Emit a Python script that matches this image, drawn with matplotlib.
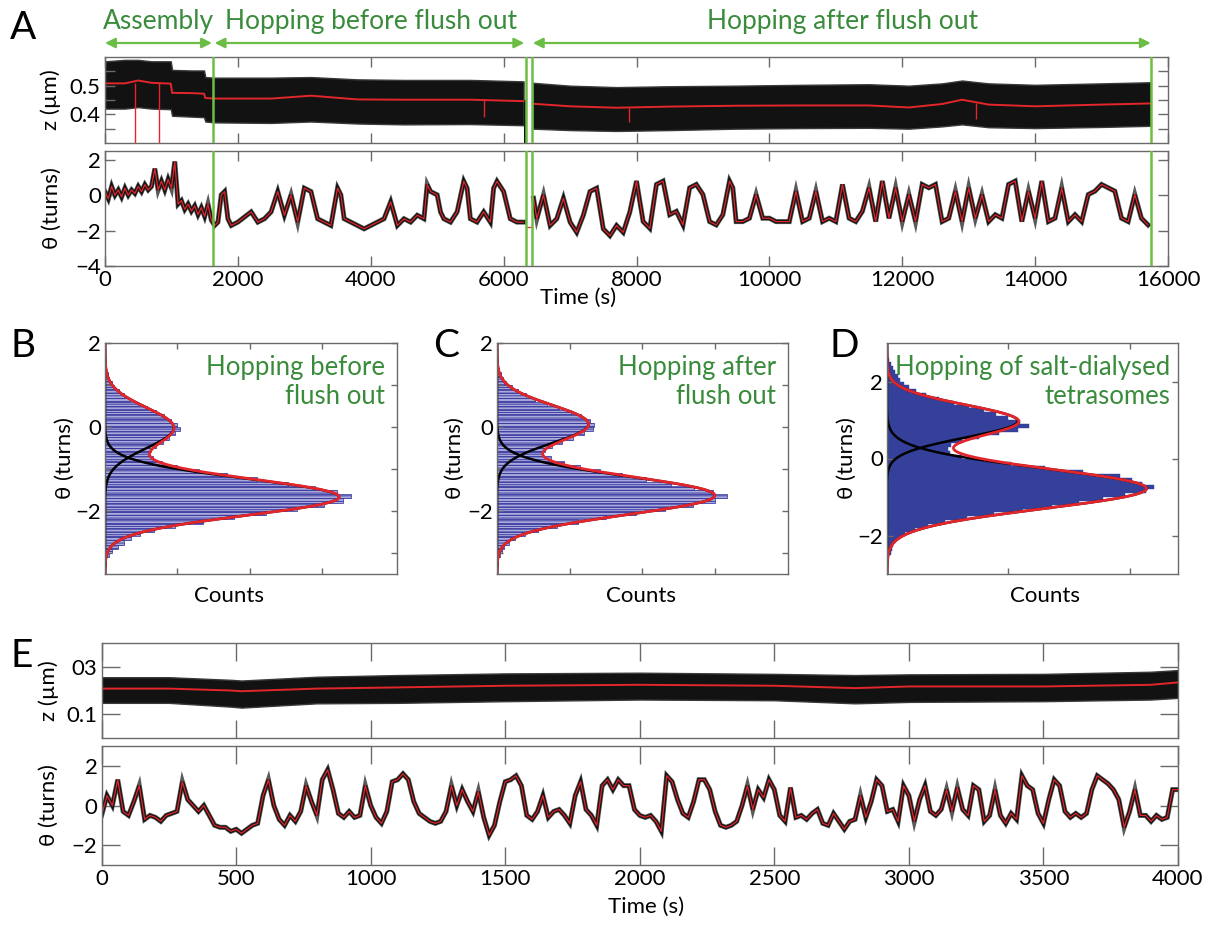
import numpy as np
import matplotlib
matplotlib.use('Agg')
import matplotlib.pyplot as plt
from matplotlib.transforms import blended_transform_factory

plt.rcParams['font.family'] = ['Lato', 'DejaVu Sans']
plt.rcParams['hatch.linewidth'] = 0.6

RED = '#e3262b'
TRACE = '#121212'
GREEN_TXT = '#3a8c3c'
GREEN_LN = '#6cbd45'
FRAME = '#6a6a6a'

# ---------------- panel A : z trace (two segments around the flush) ----------------
za1_t = [0, 300, 500, 700, 990, 1010, 1300, 1490, 1510, 1640, 2500, 3100, 3800, 4500, 5500, 6300]
za1_red = [0.508, 0.508, 0.518, 0.510, 0.507, 0.475, 0.474, 0.472, 0.457, 0.455, 0.455, 0.465, 0.452, 0.451, 0.451, 0.446]
za1_hi = [0.585, 0.590, 0.590, 0.585, 0.585, 0.555, 0.553, 0.553, 0.530, 0.528, 0.528, 0.530, 0.522, 0.520, 0.520, 0.515]
za1_lo = [0.420, 0.420, 0.425, 0.420, 0.418, 0.395, 0.392, 0.390, 0.375, 0.372, 0.370, 0.375, 0.368, 0.365, 0.366, 0.362]

za2_t = [6440, 7000, 7700, 8500, 9500, 10500, 11500, 12100, 12600, 12900, 13300, 14000, 15000, 15740]
za2_red = [0.437, 0.428, 0.423, 0.427, 0.430, 0.431, 0.431, 0.424, 0.436, 0.451, 0.434, 0.428, 0.434, 0.438]
za2_hi = [0.510, 0.500, 0.495, 0.498, 0.500, 0.503, 0.505, 0.500, 0.508, 0.518, 0.508, 0.503, 0.508, 0.512]
za2_lo = [0.350, 0.345, 0.342, 0.345, 0.350, 0.352, 0.353, 0.350, 0.358, 0.365, 0.355, 0.352, 0.356, 0.360]

# short black burst during the flush and red down-spikes
zgap_t = [6305, 6335]
zgap_lo = [0.30, 0.30]
zgap_hi = [0.45, 0.45]
zspike_t = [450, 810, 5700, 7880, 13110]
zspike_top = [0.510, 0.508, 0.451, 0.423, 0.440]
zspike_bot = [0.30, 0.30, 0.390, 0.375, 0.385]

# ---------------- panel A : theta trace ----------------
tha1_t = [0, 50, 100, 150, 200, 250, 300, 350, 400, 450,
          500, 550, 600, 650, 700, 750, 800, 850, 900, 950,
          1000, 1050, 1100, 1150, 1200, 1250, 1300, 1350, 1400, 1450,
          1500, 1550, 1600, 1650, 1700, 1750, 1800, 1850, 1900, 2000,
          2100, 2200, 2300, 2400, 2500, 2600, 2700, 2800, 2900, 3000,
          3100, 3200, 3300, 3400, 3500, 3550, 3600, 3700, 3800, 3900,
          4000, 4100, 4200, 4300, 4400, 4500, 4600, 4700, 4800, 4850,
          4900, 5000, 5050, 5100, 5200, 5300, 5400, 5450, 5500, 5600,
          5700, 5800, 5850, 5900, 6000, 6100, 6200, 6300]
tha1_v = [0.2, -0.2, 0.5, 0.0, 0.3, -0.1, 0.4, 0.0, 0.3, 0.1,
          0.5, 0.2, 0.6, 0.3, 0.5, 1.5, 0.3, 0.8, 0.3, 0.9,
          0.4, 1.9, -0.5, -0.3, -0.8, -0.5, -0.9, -0.6, -1.1, -0.7,
          -1.2, -0.5, -1.4, -1.71, -1.52, 0.02, 0.21, -1.33, -1.71, -1.52,
          -1.23, -0.94, -1.52, -1.33, -0.94, 0.21, -1.13, 0.02, -1.52, 0.40,
          0.21, -1.33, -1.52, -1.71, 0.40, 0.02, -1.33, -1.52, -1.71, -1.90,
          -1.71, -1.52, -1.33, -0.37, -1.71, -1.33, -1.52, -1.13, -1.33, 0.60,
          0.21, 0.02, -0.94, -1.33, -1.52, -0.94, 0.79, 0.40, -1.33, -1.52,
          -0.94, -1.52, 0.40, 0.79, 0.21, -1.33, -1.52, -1.52]

tha2_t = [6450, 6500, 6600, 6700, 6800, 6900, 7000, 7100, 7200, 7300,
          7400, 7500, 7600, 7700, 7800, 7900, 8000, 8100, 8200, 8300,
          8400, 8500, 8600, 8700, 8800, 8900, 9000, 9100, 9200, 9300,
          9400, 9450, 9500, 9600, 9700, 9800, 9900, 10000, 10100, 10200,
          10300, 10400, 10500, 10600, 10700, 10800, 10900, 11000, 11100, 11200,
          11300, 11400, 11500, 11600, 11700, 11800, 11900, 12000, 12100, 12200,
          12300, 12400, 12500, 12600, 12700, 12800, 12900, 13000, 13100, 13200,
          13300, 13400, 13500, 13600, 13700, 13800, 13900, 14000, 14100, 14200,
          14300, 14400, 14500, 14600, 14700, 14800, 14900, 15000, 15100, 15200,
          15300, 15400, 15500, 15600, 15700]
tha2_v = [-0.17, -1.33, 0.02, -1.71, -1.33, -0.17, -1.52, -2.10, -1.13, 0.21,
          0.40, -1.90, -2.29, -1.71, -2.10, -0.94, 0.80, -1.49, -1.87, 0.61,
          0.80, -1.10, -0.91, -1.68, 0.42, 0.61, 0.04, -1.49, -1.68, -1.10,
          0.80, 0.42, -1.49, -1.49, -1.30, 0.04, -1.30, -1.30, -1.49, -1.49,
          -1.49, 0.23, -1.49, -1.30, 0.23, -1.49, -1.30, -1.49, 0.61, -1.30,
          -1.49, -0.91, 0.42, -1.49, 0.80, -1.30, 0.42, -1.49, 0.04, -1.49,
          0.61, 0.42, 0.61, -1.49, -1.30, 0.23, -1.49, 0.42, -1.30, 0.04,
          -1.49, -1.10, -1.30, 0.61, 0.80, -1.49, 0.23, -1.30, 0.80, -1.49,
          -1.30, 0.42, -1.49, -1.10, -1.49, 0.04, 0.23, 0.61, 0.42, 0.23,
          -1.30, -1.49, 0.04, -1.30, -1.68]

thgap_t = [6340, 6430]
thgap_v = [-1.77, -1.77]

flush_lines = [1630, 6330, 6430, 15750]

# ---------------- panels B, C, D : histograms (counts, arbitrary units) ----------------
histB = [0.0, 0.0, 0.01, 0.02, 0.05, 0.10, 0.18, 0.26, 0.36, 0.48,
         0.68, 0.97, 1.35, 1.78, 2.22, 2.65, 3.02, 3.28, 3.39, 3.20,
         2.90, 2.52, 2.10, 1.68, 1.30, 1.00, 0.78, 0.66, 0.60, 0.63,
         0.70, 0.80, 0.88, 0.96, 1.04, 1.00, 0.91, 0.82, 0.71, 0.58,
         0.46, 0.35, 0.26, 0.19, 0.13, 0.09, 0.06, 0.04, 0.02, 0.01,
         0.005, 0.0, 0.0, 0.0, 0.0]
histC = [0.0, 0.0, 0.01, 0.02, 0.04, 0.07, 0.10, 0.16, 0.25, 0.38,
         0.57, 0.82, 1.12, 1.50, 1.92, 2.32, 2.70, 3.00, 3.17, 2.98,
         2.72, 2.40, 2.05, 1.72, 1.42, 1.15, 0.93, 0.74, 0.64, 0.66,
         0.76, 0.90, 1.05, 1.20, 1.32, 1.34, 1.28, 1.16, 1.02, 0.86,
         0.69, 0.53, 0.40, 0.29, 0.20, 0.13, 0.08, 0.05, 0.03, 0.02,
         0.01, 0.0, 0.0, 0.0, 0.0]
histD = [0.0, 0.0, 0.01, 0.01, 0.02, 0.03, 0.04, 0.05, 0.07, 0.10,
         0.15, 0.23, 0.34, 0.48, 0.66, 0.88, 1.12, 1.36, 1.58, 1.78,
         1.96, 2.14, 2.20, 2.10, 2.02, 1.92, 1.62, 1.30, 1.02, 0.80,
         0.62, 0.52, 0.50, 0.53, 0.62, 0.76, 0.92, 1.08, 1.17, 1.10,
         1.00, 0.90, 0.80, 0.68, 0.55, 0.43, 0.32, 0.24, 0.18, 0.14,
         0.11, 0.09, 0.07, 0.05, 0.03, 0.02, 0.01, 0.0, 0.0, 0.0]
binB_first, binC_first, binD_first = -3.45, -3.45, -2.95   # first bin centre (turns)
bin_w = 0.1

# two-state gaussian fits: amplitude, centre, width
fitB = dict(amp=[0.95, 3.23], mu=[-0.02, -1.667], sig=[0.48, 0.436])
fitC = dict(amp=[1.26, 3.0], mu=[0.07, -1.63], sig=[0.45, 0.45])
fitD = dict(amp=[1.08, 2.14], mu=[0.97, -0.78], sig=[0.42, 0.52])

# ---------------- panel E ----------------
ze_t = [0, 250, 480, 520, 800, 1100, 1500, 2000, 2500, 2800, 3000, 3500, 3900, 4000]
ze_red = [0.208, 0.208, 0.200, 0.197, 0.208, 0.213, 0.220, 0.224, 0.220, 0.210, 0.217, 0.217, 0.224, 0.234]
ze_hi = [0.256, 0.256, 0.245, 0.242, 0.258, 0.265, 0.272, 0.275, 0.270, 0.265, 0.268, 0.270, 0.279, 0.286]
ze_lo = [0.148, 0.148, 0.132, 0.128, 0.146, 0.148, 0.155, 0.162, 0.159, 0.146, 0.152, 0.155, 0.162, 0.169]

the_dt = 20
the_v = [-0.5, 0.5, 0.0, 1.3, -0.3, -0.5, 0.2, 1.0, -0.7, -0.5,
         -0.6, -0.8, -0.5, -0.4, -0.3, 1.2, 0.3, 0.0, -0.3, 0.0,
         -0.5, -1.0, -1.1, -1.1, -1.3, -1.2, -1.4, -1.2, -1.0, -0.9,
         0.5, 1.3, 0.0, -0.7, -1.0, -0.5, -0.8, -0.3, 1.0, 0.2,
         -0.5, 1.3, 1.8, 0.8, -0.4, -0.6, -0.3, -0.6, -0.5, 1.0,
         0.0, -0.6, -0.9, -0.3, 1.2, 1.3, 1.6, 1.3, 0.2, -0.4,
         -0.6, -0.8, -0.9, -0.8, -0.3, 1.0, 0.0, 0.8, 0.2, -0.3,
         0.7, -0.6, -1.5, -1.0, 0.2, 1.2, 1.3, 1.5, 1.0, -0.5,
         -0.7, -0.3, 0.5, -0.6, -0.3, -0.2, -0.5, -0.9, 0.5, 1.2,
         -0.2, -0.5, -1.0, 1.0, 1.3, 0.8, 1.3, 1.0, 1.0, -0.2,
         -0.5, -0.6, -0.5, -0.8, -1.3, 1.5, 1.2, 0.3, -0.4, -0.6,
         0.2, 1.3, 1.3, 0.8, -0.3, -1.0, -1.1, -1.0, -0.8, 0.0,
         1.0, -0.2, 0.8, 0.4, 1.3, 0.8, -0.5, -0.8, 0.9, -0.6,
         -0.5, -0.7, -0.4, -0.2, -0.9, -1.0, -0.4, -0.8, -1.2, -0.8,
         -0.7, 0.5, -0.6, 0.2, 1.3, 1.0, -0.3, -0.2, -0.8, 1.0,
         0.5, -0.8, 0.3, 1.0, -0.3, -0.5, -0.2, 0.8, -0.3, 0.9,
         -0.2, -0.5, 1.0, 0.8, -0.8, -0.5, 0.8, -0.5, -0.9, -0.4,
         -0.7, 1.5, 1.0, 0.8, -0.4, -0.9, 0.3, 1.3, 1.0, -0.3,
         -0.6, -0.4, -0.6, -0.4, 0.8, 1.5, 1.3, 1.1, 0.8, 0.3,
         -1.1, -0.3, 0.8, -0.5, -0.5, -0.8, -0.5, -0.7, -0.6, 0.8,
         0.8]

TICK_FS = 16
LABEL_FS = 16


def style(ax, ticklen):
    for s in ax.spines.values():
        s.set_color(FRAME)
        s.set_linewidth(1.0)
    ax.tick_params(direction='in', top=True, right=True, length=ticklen, width=1.0,
                   color=FRAME, labelsize=TICK_FS, pad=3)


def theta_trace(ax, t, v):
    ax.plot(t, v, color='#5a5a5a', lw=3.6, solid_joinstyle='miter')
    ax.plot(t, v, color=TRACE, lw=2.6, solid_joinstyle='miter')
    ax.plot(t, v, color=RED, lw=0.9)


def gauss(x, a, m, s):
    return a * np.exp(-(x - m) ** 2 / (2 * s ** 2))


fig = plt.figure(figsize=(12.18, 9.25), dpi=100)
W, H = 1218.0, 925.0


def px_axes(l, t, r, b):
    return fig.add_axes([l / W, 1 - b / H, (r - l) / W, (b - t) / H])


# ---------------- A ----------------
ax_az = px_axes(105, 57, 1168, 143)
ax_at = px_axes(105, 151, 1168, 266)

for tt, lo, hi, red in [(za1_t, za1_lo, za1_hi, za1_red), (za2_t, za2_lo, za2_hi, za2_red)]:
    ax_az.fill_between(tt, lo, hi, facecolor=TRACE, edgecolor='#3a3a3a', lw=1.0)
    ax_az.plot(tt, red, color=RED, lw=1.4)
ax_az.fill_between(zgap_t, zgap_lo, zgap_hi, facecolor=TRACE, lw=0)
ax_az.vlines(zspike_t, zspike_bot, zspike_top, color=RED, lw=1.0)
ax_az.set_xlim(0, 16000)
ax_az.set_ylim(0.3, 0.6)
ax_az.set_xticks(range(0, 16001, 2000))
ax_az.set_yticks([0.35, 0.4, 0.45, 0.5, 0.55])
ax_az.set_yticklabels(['', '0.4', '', '0.5', ''])
style(ax_az, 7)
ax_az.tick_params(labelbottom=False)
ax_az.set_ylabel('z (µm)', fontsize=LABEL_FS)
ax_az.yaxis.set_label_coords(-0.041, 0.5)

theta_trace(ax_at, tha1_t, tha1_v)
theta_trace(ax_at, tha2_t, tha2_v)
ax_at.plot(thgap_t, thgap_v, color=RED, lw=0.9)
ax_at.set_xlim(0, 16000)
ax_at.set_ylim(-4, 2.5)
ax_at.set_xticks(range(0, 16001, 2000))
ax_at.set_yticks([-4, -2, 0, 2])
style(ax_at, 7)
ax_at.set_ylabel('θ (turns)', fontsize=LABEL_FS)
ax_at.yaxis.set_label_coords(-0.041, 0.5)
ax_at.set_xlabel('Time (s)', fontsize=LABEL_FS)
ax_at.xaxis.set_label_coords(0.445, -0.19)

for ax in (ax_az, ax_at):
    for x in flush_lines:
        ax.axvline(x, color=GREEN_LN, lw=1.8, zorder=5)

# phase arrows and labels above panel A
trans = blended_transform_factory(ax_az.transData, fig.transFigure)
phases = [('Assembly', 0, 1610, 800), ('Hopping before flush out', 1650, 6310, 4000),
          ('Hopping after flush out', 6440, 15740, 11100)]
for name, x0, x1, xc in phases:
    ax_az.annotate('', xy=(x1, 1 - 43 / H), xytext=(x0, 1 - 43 / H), xycoords=trans,
                   textcoords=trans, annotation_clip=False,
                   arrowprops=dict(arrowstyle='<|-|>', color=GREEN_LN, lw=1.6,
                                   mutation_scale=15, shrinkA=0, shrinkB=0))
    ax_az.text(xc, 1 - 22 / H, name, transform=trans, ha='center', va='center',
               fontsize=19, color=GREEN_TXT)

# ---------------- B, C, D ----------------
hist_panels = [
    (px_axes(105, 343, 397, 574), histB, binB_first, fitB, (-3.5, 2), (0, 4.03), [1, 2, 3],
     [-3, -2, -1, 0, 1, 2], 'Hopping before\nflush out', 0.425, -0.103, False),
    (px_axes(497, 343, 788, 574), histC, binC_first, fitC, (-3.5, 2), (0, 4.01), [1, 2, 3],
     [-3, -2, -1, 0, 1, 2], 'Hopping after\nflush out', 0.495, -0.11, False),
    (px_axes(887, 343, 1178, 574), histD, binD_first, fitD, (-3, 3), (0, 2.4), [1, 2],
     [-2, 0, 2], 'Hopping of salt-dialysed\ntetrasomes', 0.543, -0.103, True),
]
for ax, counts, first, fit, ylim, xlim, xt, yt, title, xl, yl, solid in hist_panels:
    centres = first + bin_w * np.arange(len(counts))
    if solid:
        ax.barh(centres, counts, height=bin_w, color='#34409a', edgecolor='#34409a', lw=0.3)
    else:
        ax.barh(centres, counts, height=bin_w, facecolor='#a9a9dc', edgecolor='#30309a',
                lw=0.5, hatch='------')
    yy = np.linspace(ylim[0], ylim[1], 500)
    g1 = gauss(yy, fit['amp'][0], fit['mu'][0], fit['sig'][0])
    g2 = gauss(yy, fit['amp'][1], fit['mu'][1], fit['sig'][1])
    ax.plot(g1, yy, color='black', lw=1.8)
    ax.plot(g2, yy, color='black', lw=1.8)
    ax.plot(g1 + g2, yy, color=RED, lw=2.0)
    ax.set_xlim(*xlim)
    ax.set_ylim(*ylim)
    ax.set_xticks(xt)
    ax.set_xticklabels([])
    ax.set_yticks(yt)
    ax.set_yticklabels([str(v).replace('-', '\u2212') if v % 2 == 0 else '' for v in yt])
    style(ax, 4)
    ax.set_xlabel('Counts', fontsize=LABEL_FS)
    ax.xaxis.set_label_coords(xl, -0.05)
    ax.set_ylabel('θ (turns)', fontsize=LABEL_FS)
    ax.yaxis.set_label_coords(yl, 0.5)
    ax.text(0.96 if not solid else 0.975, 0.95, title, transform=ax.transAxes, ha='right',
            va='top', fontsize=18.5, color=GREEN_TXT, linespacing=1.2)

# ---------------- E ----------------
ax_ez = px_axes(101.6, 643, 1178, 738)
ax_et = px_axes(101.6, 746, 1178, 865)

ax_ez.fill_between(ze_t, ze_lo, ze_hi, facecolor=TRACE, edgecolor='#3a3a3a', lw=1.0)
ax_ez.plot(ze_t, ze_red, color=RED, lw=1.4)
ax_ez.set_xlim(0, 4000)
ax_ez.set_ylim(0, 0.4)
ax_ez.set_xticks(range(0, 4001, 500))
ax_ez.set_yticks([0.1, 0.3])
ax_ez.set_yticklabels(['0.1', '03'])
style(ax_ez, 13)
ax_ez.tick_params(labelbottom=False)
ax_ez.set_ylabel('z (µm)', fontsize=LABEL_FS)
ax_ez.yaxis.set_label_coords(-0.040, 0.5)

e_t = the_dt * np.arange(len(the_v))
theta_trace(ax_et, e_t, the_v)
ax_et.set_xlim(0, 4000)
ax_et.set_ylim(-3, 3)
ax_et.set_xticks(range(0, 4001, 500))
ax_et.set_yticks([-2, 0, 2])
style(ax_et, 13)
ax_et.set_ylabel('θ (turns)', fontsize=LABEL_FS)
ax_et.yaxis.set_label_coords(-0.040, 0.5)
ax_et.set_xlabel('Time (s)', fontsize=LABEL_FS)
ax_et.xaxis.set_label_coords(0.506, -0.27)

# panel letters
for letter, x, y in [('A', 10, 28), ('B', 10, 346), ('C', 433, 346), ('D', 830, 346), ('E', 10, 656)]:
    fig.text(x / W, 1 - y / H, letter, fontsize=28, ha='left', va='center')

fig.savefig('out.png', dpi=100)
